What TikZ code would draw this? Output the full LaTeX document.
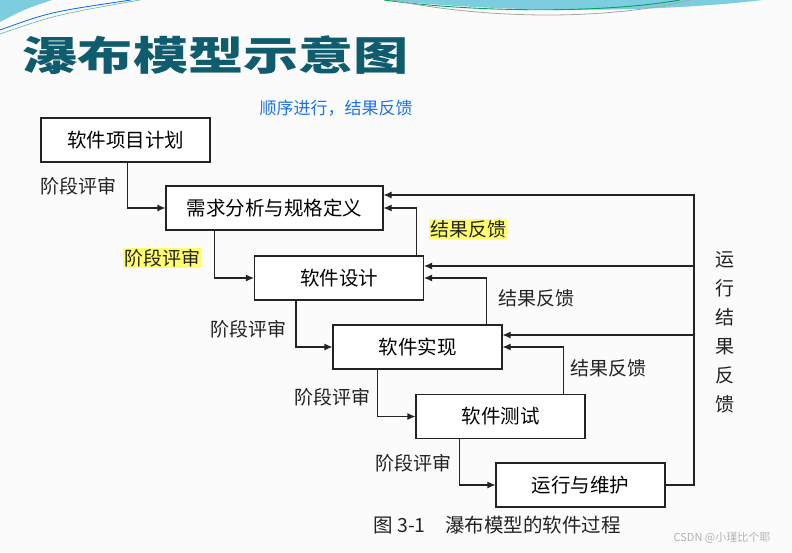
\documentclass[tikz,border=0pt]{standalone}
\usepackage{fontspec}
\usepackage{graphicx}
\setmainfont{Noto Sans CJK SC}
\usetikzlibrary{arrows.meta,positioning,calc}
\definecolor{titleteal}{RGB}{14,92,110}
\definecolor{swoosh}{RGB}{125,205,225}
\definecolor{hl}{RGB}{255,255,110}
\definecolor{ink}{RGB}{35,35,35}
\definecolor{pen}{RGB}{30,115,230}
\tikzset{
  stage/.style={draw=ink,line width=1.1pt,fill=white,minimum width=169pt,minimum height=44pt,inner sep=0pt,font=\fontsize{19.5}{21}\selectfont},
  arr/.style={-{Latex[length=8pt,width=7pt]},line width=1.1pt,draw=ink},
  lbl/.style={font=\fontsize{19}{21}\selectfont,inner sep=1pt,text=ink},
  hlbl/.style={lbl,fill=hl}
}
\begin{document}
\begin{tikzpicture}[x=1pt,y=-1pt]
\useasboundingbox (0,0) rectangle (792,552);
\fill[gray!3] (0,0) rectangle (792,552);
% top decoration
\fill[swoosh] (0,0) -- (52,0) .. controls (25,9) .. (0,22) -- cycle;
\draw[blue!60!cyan,line width=0.8pt] (0,30) .. controls (50,12) .. (131,0);
\draw[teal!60,line width=0.6pt] (0,34) .. controls (55,15) .. (140,0);
\fill[swoosh] (384,0) .. controls (520,14) and (660,12) .. (763,0) -- cycle;
\draw[teal!70!green,line width=0.9pt] (384,0) .. controls (470,12) and (600,14) .. (680,0);
\draw[gray!70,line width=0.8pt] (392,0) .. controls (490,20) and (610,20) .. (690,0);
% title and note
\node[font=\fontsize{40}{40}\bfseries\selectfont,text=titleteal,inner sep=0pt] (title) at (216,55) {\scalebox{1.38}[1]{瀑布模型示意图}};
\node[font=\fontsize{17}{17}\selectfont,text=pen,inner sep=0pt] (note) at (336,108) {顺序进行，结果反馈};
% stages
\node[stage] (plan) at (125.5,140) {软件项目计划};
\node[stage,minimum width=217pt] (req) at (274.5,208) {需求分析与规格定义};
\foreach \n/\x/\y/\t in {des/339/278/软件设计, imp/417.5/347/软件实现, tst/500.5/416.5/软件测试, ops/580.5/485/运行与维护}
  \node[stage] (\n) at (\x,\y) {\t};
% stage reviews
\draw[arr] ([xshift=87pt]plan.south west) |- (req.west);
\draw[arr] ([xshift=49pt]req.south west) |- (des.west);
\draw[arr] ([xshift=42pt]des.south west) |- (imp.west);
\draw[arr] ([xshift=45pt]imp.south west) |- (tst.west);
\draw[arr] ([xshift=44pt]tst.south west) |- (ops.west);
\node[lbl] (r1) at (78,186) {阶段评审};
\node[hlbl] (r2) at (162,258) {阶段评审};
\node[lbl] (r3) at (248,329) {阶段评审};
\node[lbl] (r4) at (332,397) {阶段评审};
\node[lbl] (r5) at (413,463) {阶段评审};
% result feedback
\draw[arr] ([xshift=-8pt]des.north east) |- (req.east);
\draw[arr] ([xshift=-16pt]imp.north east) |- (des.east);
\draw[arr] ([xshift=-22pt]tst.north east) |- (imp.east);
\node[hlbl] (f1) at (468,229) {结果反馈};
\node[lbl] (f2) at (536,298) {结果反馈};
\node[lbl] (f3) at (608,368) {结果反馈};
% running feedback
\coordinate (rt) at (694,485);
\coordinate (req-in) at ($(req.east)+(0,-13)$);
\draw[arr] (ops.east) -- (rt) |- (req-in);
\foreach \s in {des,imp} {
  \coordinate (\s-in) at ($(\s.east)+(0,-12)$);
  \draw[arr] (rt |- \s-in) -- (\s-in);
}
\node[lbl,font=\fontsize{19}{29}\selectfont,align=center] (run) at (725,332) {运\\行\\结\\果\\反\\馈};
% caption
\node[lbl,font=\fontsize{19.5}{21}\selectfont] (cap) at (497,525) {图 3-1\quad 瀑布模型的软件过程};
\node[font=\fontsize{11}{11}\selectfont,text=gray!60,inner sep=0pt] (wm) at (722,538) {CSDN @小瑾比个耶};
\end{tikzpicture}
\end{document}
